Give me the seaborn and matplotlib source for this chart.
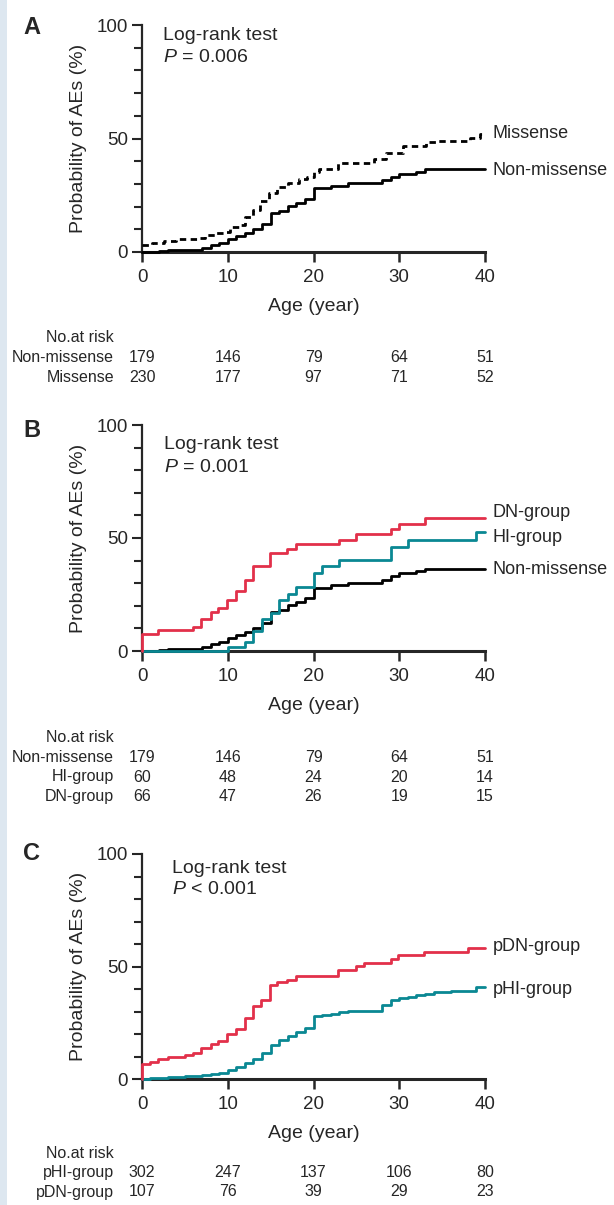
import numpy as np
import pandas as pd
import matplotlib
matplotlib.use("Agg")
import matplotlib.pyplot as plt
import matplotlib.transforms as mtransforms
from matplotlib.patches import Rectangle
from matplotlib.ticker import MultipleLocator, FixedLocator
import seaborn as sns

# ---- data (step times in years, cumulative % of AEs) ----
nonmis_t = [0, 2.0, 3.0, 7.0, 8.0, 9.0, 10.0, 11.0, 12.0, 13.0, 14.0, 15.0, 16.0, 17.0,
            18.0, 19.0, 20.0, 22.0, 24.0, 28.0, 29.0, 30.0, 32.0, 33.0, 40.0]
nonmis_p = [0, 0.4, 1.0, 1.9, 3.1, 4.1, 5.6, 7.2, 8.5, 10.0, 12.2, 17.1, 18.1, 20.4,
            21.5, 23.4, 28.0, 29.1, 30.3, 31.5, 33.2, 34.3, 35.4, 36.5, 36.5]

mis_t = [0, 1.2, 2.6, 4.0, 5.2, 6.4, 7.4, 8.6, 9.6, 10.3, 11.3, 12.0, 13.0, 13.8, 14.8,
         15.8, 17.0, 18.3, 19.3, 20.0, 20.6, 22.8, 27.0, 28.5, 30.4, 33.1, 34.3, 38.3, 39.4, 40.0]
mis_p = [2.9, 4.1, 5.0, 5.6, 5.9, 6.3, 7.5, 8.2, 8.8, 10.9, 11.9, 15.3, 18.5, 22.5, 25.9,
         28.8, 30.3, 32.1, 33.2, 35.4, 36.5, 39.1, 40.9, 43.5, 46.9, 48.4, 49.0, 50.2, 52.0, 52.0]

dn_t = [0, 0, 1.9, 5.9, 6.9, 8.0, 8.9, 9.9, 11.0, 12.0, 13.0, 14.9, 16.9, 18.0, 23.0,
        24.9, 29.0, 30.0, 33.0, 40.0]
dn_p = [0, 7.4, 9.1, 10.6, 14.0, 17.2, 19.0, 22.6, 26.5, 31.6, 37.5, 43.2, 45.0, 47.3, 49.1,
        51.8, 53.8, 56.2, 58.7, 58.7]

hi_t = [0, 10.0, 12.0, 13.0, 14.0, 15.0, 16.0, 17.0, 18.0, 20.0, 21.0, 23.0, 29.0, 31.0, 39.0, 40.0]
hi_p = [0, 1.8, 4.2, 9.0, 14.3, 17.0, 22.6, 25.3, 28.3, 34.4, 37.4, 40.3, 46.2, 49.1, 52.5, 52.5]

pdn_t = [0, 0, 0.9, 1.9, 3.0, 5.0, 5.9, 6.9, 8.0, 8.9, 9.9, 11.0, 12.0, 12.9, 13.9, 14.9,
         15.8, 16.9, 18.0, 22.9, 24.9, 25.9, 29.0, 29.9, 32.9, 38.0, 40.0]
pdn_p = [0, 6.6, 7.5, 8.7, 9.6, 10.6, 11.6, 13.7, 15.4, 16.8, 19.9, 22.4, 27.1, 32.6, 35.1, 41.8,
         42.9, 44.1, 45.6, 48.4, 50.3, 51.6, 53.2, 55.1, 56.5, 58.1, 58.1]

phi_t = [0, 0.9, 1.9, 3.0, 5.0, 7.0, 8.0, 9.0, 10.0, 11.0, 12.0, 13.0, 14.0, 15.0, 16.0, 17.0,
         18.0, 19.0, 20.0, 21.0, 22.0, 23.0, 24.0, 28.0, 29.0, 30.0, 31.0, 32.0, 33.0, 34.0,
         36.0, 39.0, 40.0]
phi_p = [0, 0.3, 0.6, 0.9, 1.3, 1.6, 2.2, 2.6, 4.0, 5.4, 7.2, 9.1, 11.6, 15.0, 17.2, 19.1,
         20.9, 22.6, 27.8, 28.5, 29.0, 29.7, 30.4, 32.9, 35.3, 36.0, 36.6, 37.2, 37.8, 38.5,
         39.1, 40.7, 40.7]

risk_ages = [0, 10, 20, 30, 40]
risk_a_groups = ["Non-missense", "Missense"]
risk_a = [[179, 146, 79, 64, 51], [230, 177, 97, 71, 52]]
risk_b_groups = ["Non-missense", "HI-group", "DN-group"]
risk_b = [[179, 146, 79, 64, 51], [60, 48, 24, 20, 14], [66, 47, 26, 19, 15]]
risk_c_groups = ["pHI-group", "pDN-group"]
risk_c = [[302, 247, 137, 106, 80], [107, 76, 39, 29, 23]]

p_texts = ["$P$ = 0.006", "$P$ = 0.001", "$P$ < 0.001"]

RED = "#e2304a"
TEAL = "#0a8893"
BLACK = "#000000"

# ---- style ----
sns.set_style("ticks")
plt.rcParams["font.family"] = ["Liberation Sans", "DejaVu Sans"]
plt.rcParams["mathtext.fontset"] = "custom"
plt.rcParams["mathtext.it"] = "Liberation Sans:italic"
plt.rcParams["mathtext.rm"] = "Liberation Sans"

W, H = 614, 1205
fig = plt.figure(figsize=(W / 100, H / 100), dpi=100)
fig.patch.set_facecolor("white")
fig.patches.append(Rectangle((0, 0), 7 / W, 1, transform=fig.transFigure,
                             facecolor="#dde7f0", edgecolor="none", zorder=-5))

FS_TEXT = 14
FS_LABEL = 13
FS_TICK = 13.5
FS_RISK = 11.5


def add_axes_px(left, top, right, bottom):
    return fig.add_axes([left / W, 1 - bottom / H, (right - left) / W, (bottom - top) / H])


def draw_curve(ax, t, p, color, dashed=False):
    df = pd.DataFrame({"age": t, "prob": p})
    sns.lineplot(data=df, x="age", y="prob", ax=ax, color=color, linewidth=2.0,
                 drawstyle="steps-post", estimator=None, sort=False, clip_on=False, zorder=3)
    if dashed:
        ax.lines[-1].set_dashes((2.3, 1.6))


def style_axes(ax):
    ax.set_xlim(0, 40)
    ax.set_ylim(0, 100)
    sns.despine(ax=ax)
    ax.spines["left"].set_linewidth(1.6)
    ax.spines["bottom"].set_linewidth(2.2)
    ax.xaxis.set_major_locator(MultipleLocator(10))
    ax.yaxis.set_major_locator(FixedLocator([0, 50, 100]))
    ax.yaxis.set_minor_locator(FixedLocator([10, 20, 30, 40, 60, 70, 80, 90]))
    ax.tick_params(axis="y", which="major", length=7, width=1.5, labelsize=FS_TICK, pad=3)
    ax.tick_params(axis="y", which="minor", length=5.5, width=1.5)
    ax.tick_params(axis="x", which="major", length=7, width=1.8, labelsize=FS_TICK, pad=5)
    ax.set_xlabel("Age (year)", fontsize=FS_TEXT, labelpad=9)
    ax.set_ylabel("Probability of AEs (%)", fontsize=FS_TEXT, labelpad=7)


def curve_label(ax, y, text):
    ax.text(40.9, y, text, fontsize=FS_LABEL, va="center", ha="left", clip_on=False)


def risk_table(ax, groups, counts, top_px, step_px=19.5):
    trans = mtransforms.blended_transform_factory(ax.transData, fig.transFigure)
    fig.text(114 / W, 1 - top_px / H, "No.at risk", ha="right", va="center", fontsize=FS_RISK)
    for i, (g, row) in enumerate(zip(groups, counts)):
        y = 1 - (top_px + step_px * (i + 1)) / H
        fig.text(114 / W, y, g, ha="right", va="center", fontsize=FS_RISK)
        for a, n in zip(risk_ages, row):
            ax.text(a, y, str(n), transform=trans, ha="center", va="center", fontsize=FS_RISK)


def panel_letter(letter, y_px):
    fig.text(23 / W, 1 - y_px / H, letter, fontsize=17, fontweight="bold", va="center", ha="left")


# ---- Panel A ----
axA = add_axes_px(142, 25, 485, 252)
draw_curve(axA, mis_t, mis_p, BLACK, dashed=True)
draw_curve(axA, nonmis_t, nonmis_p, BLACK)
style_axes(axA)
axA.text(2.5, 95.2, "Log-rank test", fontsize=FS_TEXT, va="center")
axA.text(2.5, 85.5, p_texts[0], fontsize=FS_TEXT, va="center")
curve_label(axA, 52.0, "Missense")
curve_label(axA, 36.0, "Non-missense")
risk_table(axA, risk_a_groups, risk_a, 338)
panel_letter("A", 27)

# ---- Panel B ----
axB = add_axes_px(142, 425, 485, 651)
draw_curve(axB, nonmis_t, nonmis_p, BLACK)
draw_curve(axB, hi_t, hi_p, TEAL)
draw_curve(axB, dn_t, dn_p, RED)
style_axes(axB)
axB.text(2.6, 91.2, "Log-rank test", fontsize=FS_TEXT, va="center")
axB.text(2.6, 81.2, p_texts[1], fontsize=FS_TEXT, va="center")
curve_label(axB, 61.5, "DN-group")
curve_label(axB, 50.0, "HI-group")
curve_label(axB, 36.0, "Non-missense")
risk_table(axB, risk_b_groups, risk_b, 738)
panel_letter("B", 430)

# ---- Panel C ----
axC = add_axes_px(142, 854, 485, 1079)
draw_curve(axC, phi_t, phi_p, TEAL)
draw_curve(axC, pdn_t, pdn_p, RED)
style_axes(axC)
axC.text(3.5, 93.6, "Log-rank test", fontsize=FS_TEXT, va="center")
axC.text(3.5, 84.1, p_texts[2], fontsize=FS_TEXT, va="center")
curve_label(axC, 58.7, "pDN-group")
curve_label(axC, 40.0, "pHI-group")
risk_table(axC, risk_c_groups, risk_c, 1153)
panel_letter("C", 853)

fig.savefig("out.png", dpi=100)
